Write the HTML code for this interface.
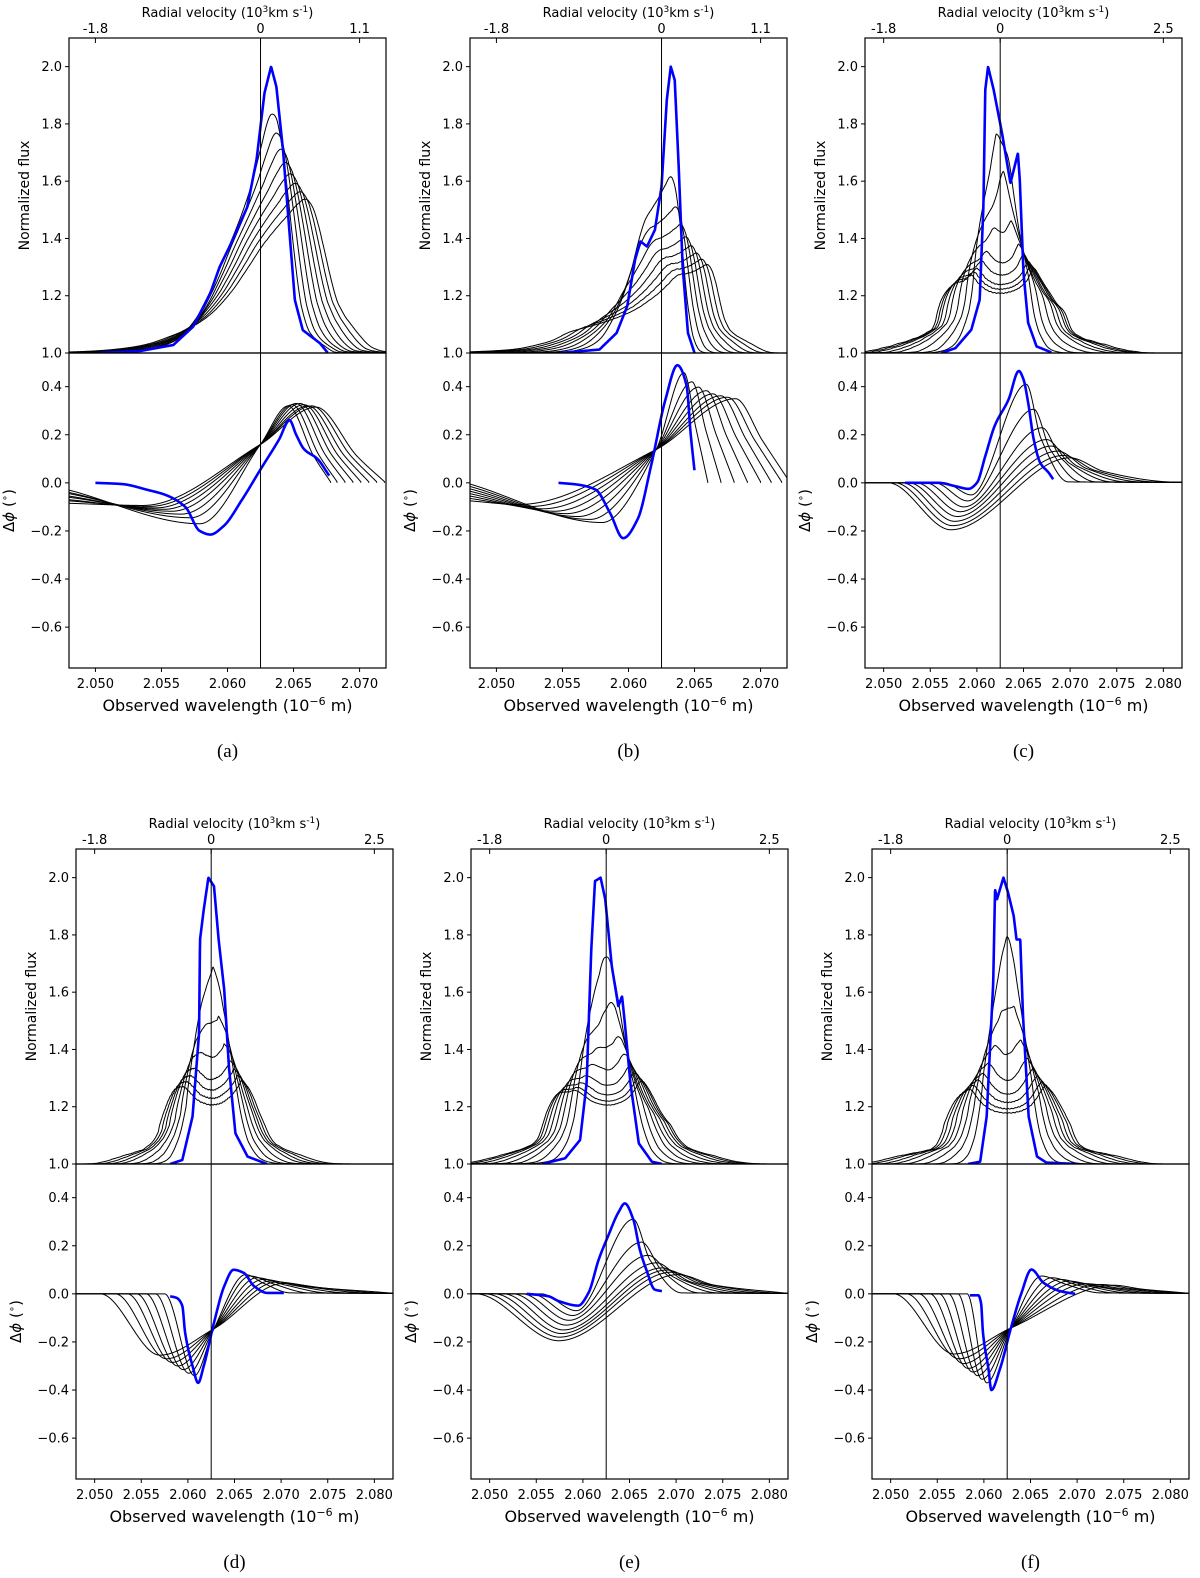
<!DOCTYPE html>
<html><head><meta charset="utf-8">
<style>
body{margin:0;background:#fff}
svg{display:block}
text{font-family:"DejaVu Sans","Liberation Sans",sans-serif;fill:#000}
.cap{font-family:"Liberation Serif",serif}
</style></head>
<body>
<svg id="fig" width="1200" height="1578" viewBox="0 0 1200 1578"></svg>
<script>
// ---------- DATA ----------
const aBlueFluxWl=[2.0503,2.0534,2.0559,2.0574,2.0587,2.0594,2.0604,2.0615,2.0622,2.0628,2.0633,2.0637,2.0642,2.0647,2.0651,2.0657,2.0670,2.0676];
const aBlueFluxVal=[1.0,1.007,1.028,1.092,1.209,1.30,1.395,1.51,1.675,1.908,2.0,1.93,1.71,1.418,1.185,1.08,1.034,1.0];
const bBlueFluxWl=[2.0548,2.0578,2.0591,2.0599,2.0605,2.0609,2.0614,2.0620,2.0625,2.0629,2.0632,2.0635,2.0638,2.0641,2.0645,2.0650];
const bBlueFluxVal=[1.0,1.012,1.07,1.163,1.326,1.39,1.372,1.43,1.581,1.884,2.0,1.953,1.651,1.302,1.07,1.0];
const cBlueFluxWl=[2.0562,2.0577,2.0594,2.0603,2.0607,2.0609,2.0612,2.0618,2.0627,2.0636,2.0644,2.0646,2.0650,2.0655,2.0664,2.0680];
const cBlueFluxVal=[1.0,1.017,1.081,1.186,1.512,1.919,2.0,1.919,1.767,1.593,1.698,1.605,1.279,1.105,1.023,1.002];
const dBlueFluxWl=[2.0581,2.0594,2.0605,2.0612,2.0613,2.0617,2.0622,2.0628,2.0633,2.0639,2.0644,2.0651,2.0664,2.0685];
const dBlueFluxVal=[1.0,1.014,1.166,1.457,1.783,1.888,2.0,1.97,1.783,1.608,1.34,1.107,1.026,1.0];
const eBlueFluxWl=[2.0556,2.0581,2.0597,2.0604,2.0609,2.0613,2.0619,2.0624,2.0631,2.0638,2.0642,2.0645,2.0651,2.0660,2.0674,2.0685];
const eBlueFluxVal=[1.0,1.02,1.084,1.282,1.749,1.988,2.0,1.924,1.691,1.551,1.586,1.492,1.282,1.072,1.008,1.0];
const fBlueFluxWl=[2.0583,2.0596,2.0603,2.0610,2.0612,2.0614,2.0621,2.0626,2.0632,2.0635,2.0639,2.0642,2.0648,2.0657,2.0667,2.0700];
const fBlueFluxVal=[1.0,1.008,1.166,1.632,1.96,1.924,2.0,1.947,1.866,1.784,1.784,1.516,1.166,1.026,1.005,1.0];

const aKernLeft=[0.0025,0.0033,0.0041,0.0049,0.0057,0.0065,0.0073,0.0081];
const aKernRight=[0.0005,0.0009,0.0013,0.0017,0.0021,0.0025,0.0029,0.0033];
const bKernLeft=[0.0024,0.0034,0.0043,0.0052,0.0060,0.0068,0.0076,0.0084];
const bKernRight=[0.0004,0.0008,0.0012,0.0016,0.0020,0.0024,0.0028,0.0032];
const cKernLeft=[0.0012,0.0020,0.0028,0.0036,0.0041,0.0046,0.0049,0.0052];
const cKernRight=[0.0012,0.0020,0.0028,0.0036,0.0041,0.0046,0.0049,0.0052];
const dKernLeft=[0.0014,0.0020,0.0026,0.0032,0.0036,0.0040,0.0044];
const dKernRight=[0.0014,0.0020,0.0026,0.0032,0.0036,0.0040,0.0044];
const eKernLeft=[0.0014,0.0022,0.0029,0.0035,0.0041,0.0046,0.0050,0.0053];
const eKernRight=[0.0014,0.0022,0.0029,0.0035,0.0041,0.0046,0.0050,0.0053];
const fKernLeft=[0.0013,0.0021,0.0028,0.0035,0.0041,0.0046,0.0051,0.0055];
const fKernRight=[0.0013,0.0021,0.0028,0.0035,0.0041,0.0046,0.0051,0.0055];
const kernSkew=[2.0,0.8,0,0,0,0];

const aBluePhWl=[2.0500,2.0520,2.0540,2.0553,2.0568,2.0579,2.0587,2.0597,2.0611,2.0625,2.0639,2.0647,2.0652,2.0658,2.0668,2.0677];
const aBluePhVal=[0.0,-0.005,-0.03,-0.05,-0.1,-0.2,-0.215,-0.18,-0.07,0.056,0.18,0.26,0.2,0.14,0.1,0.03];
const bBluePhWl=[2.0547,2.0561,2.0575,2.0586,2.0596,2.0607,2.0617,2.0628,2.0637,2.0644,2.0647,2.0650];
const bBluePhVal=[0.0,-0.007,-0.028,-0.125,-0.23,-0.15,0.069,0.347,0.489,0.403,0.208,0.049];
const cBluePhWl=[2.0523,2.0559,2.0577,2.0591,2.0600,2.0609,2.0619,2.0634,2.0645,2.0650,2.0655,2.0661,2.0668,2.0677,2.0682];
const cBluePhVal=[0,0,-0.014,-0.025,0,0.111,0.236,0.347,0.465,0.43,0.333,0.18,0.083,0.042,0.014];
const dBluePhWl=[2.0581,2.0588,2.0594,2.0597,2.0605,2.0611,2.0617,2.0628,2.0639,2.0649,2.0660,2.0671,2.0685,2.0703];
const dBluePhVal=[-0.01,-0.017,-0.05,-0.16,-0.3,-0.37,-0.3,-0.12,0.032,0.1,0.087,0.032,0.004,0.004];
const eBluePhWl=[2.0540,2.0563,2.0574,2.0595,2.0606,2.0617,2.0627,2.0638,2.0645,2.0654,2.0661,2.0668,2.0677,2.0685];
const eBluePhVal=[0,-0.01,-0.03,-0.049,0.004,0.143,0.24,0.338,0.376,0.31,0.185,0.101,0.018,0.011];
const fBluePhWl=[2.0585,2.0594,2.0597,2.0599,2.0605,2.0608,2.0617,2.0629,2.0640,2.0651,2.0664,2.0682,2.0698];
const fBluePhVal=[-0.006,-0.006,-0.04,-0.16,-0.315,-0.40,-0.315,-0.142,0.0,0.101,0.046,0.011,0.0];

const aPhStartX=[2.048,2.048,2.048,2.048,2.048,2.048,2.048,2.048];
const aPhStartY=[-0.03,-0.04,-0.045,-0.055,-0.06,-0.07,-0.075,-0.085];
const aPhTroughX=[2.0579,2.0572,2.0565,2.0558,2.0552,2.0546,2.0541,2.0536];
const aPhTroughY=[-0.17,-0.145,-0.13,-0.118,-0.11,-0.104,-0.098,-0.094];
const aPhCross=[2.0625,0.16];
const aPhPeakX=[2.0646,2.0649,2.0652,2.0655,2.0658,2.0661,2.0664,2.0667];
const aPhPeakY=[0.32,0.325,0.33,0.33,0.325,0.32,0.32,0.315];
const aPhEndX=[2.0678,2.0683,2.0689,2.0695,2.0701,2.0707,2.0713,2.0719];

const bPhStartX=[2.048,2.048,2.048,2.048,2.048,2.048,2.048,2.048];
const bPhStartY=[-0.005,-0.015,-0.025,-0.035,-0.045,-0.055,-0.065,-0.075];
const bPhTroughX=[2.0580,2.0571,2.0562,2.0553,2.0544,2.0535,2.0526,2.0517];
const bPhTroughY=[-0.165,-0.152,-0.14,-0.128,-0.118,-0.108,-0.098,-0.09];
const bPhCross=[2.0621,0.139];
const bPhPeakX=[2.0642,2.0648,2.0653,2.0659,2.0664,2.0670,2.0675,2.0681];
const bPhPeakY=[0.458,0.42,0.398,0.383,0.37,0.362,0.356,0.35];
const bPhEndX=[2.0660,2.0670,2.0680,2.0690,2.0700,2.0708,2.0716,2.0722];

const cPhStartX=[2.0565,2.0555,2.0545,2.0535,2.0527,2.0520,2.0512,2.0505];
const cPhStartY=[0,0,0,0,0,0,0,0];
const cPhTroughX=[2.0594,2.0590,2.0586,2.0582,2.0579,2.0576,2.0574,2.0572];
const cPhTroughY=[-0.05,-0.075,-0.10,-0.12,-0.14,-0.16,-0.178,-0.195];
const cPhCross=null;
const cPhPeakX=[2.0653,2.0661,2.0670,2.0675,2.0680,2.0687,2.0693,2.0700];
const cPhPeakY=[0.41,0.306,0.229,0.18,0.153,0.132,0.114,0.104];
const cPhEndX=[2.0698,2.0712,2.0728,2.0745,2.0760,2.0775,2.0790,2.0805];

const dPhStartX=[2.0575,2.0565,2.0555,2.0545,2.0535,2.0522,2.0506];
const dPhStartY=[0,0,0,0,0,0,0];
const dPhTroughX=[2.0607,2.0601,2.0595,2.0589,2.0583,2.0577,2.0570];
const dPhTroughY=[-0.34,-0.33,-0.315,-0.30,-0.285,-0.27,-0.255];
const dPhCross=[2.0628,-0.145];
const dPhPeakX=[2.0662,2.0667,2.0674,2.0681,2.0688,2.0695,2.0702];
const dPhPeakY=[0.08,0.074,0.067,0.06,0.053,0.049,0.043];
const dPhEndX=[2.0710,2.0730,2.0750,2.0770,2.0790,2.0805,2.0815];

const ePhStartX=[2.0555,2.0545,2.0535,2.0525,2.0515,2.0505,2.0495,2.0485];
const ePhStartY=[0,0,0,0,0,0,0,0];
const ePhTroughX=[2.0593,2.0589,2.0585,2.0582,2.0579,2.0577,2.0575,2.0574];
const ePhTroughY=[-0.07,-0.09,-0.11,-0.13,-0.15,-0.165,-0.18,-0.195];
const ePhCross=null;
const ePhPeakX=[2.0654,2.0663,2.0670,2.0679,2.0685,2.0690,2.0695,2.0702];
const ePhPeakY=[0.31,0.215,0.16,0.129,0.108,0.099,0.09,0.08];
const ePhEndX=[2.0706,2.0725,2.0745,2.0760,2.0775,2.0790,2.0805,2.0815];

const fPhStartX=[2.0582,2.0572,2.0562,2.0552,2.0542,2.0530,2.0517,2.0503];
const fPhStartY=[0,0,0,0,0,0,0,0];
const fPhTroughX=[2.0603,2.0598,2.0593,2.0588,2.0583,2.0578,2.0573,2.0568];
const fPhTroughY=[-0.37,-0.355,-0.34,-0.325,-0.31,-0.29,-0.27,-0.25];
const fPhCross=[2.0629,-0.142];
const fPhPeakX=[2.0662,2.0673,2.0682,2.0691,2.0699,2.0710,2.0725,2.0739];
const fPhPeakY=[0.074,0.067,0.06,0.053,0.046,0.042,0.039,0.036];
const fPhEndX=[2.0725,2.0740,2.0755,2.0770,2.0785,2.0800,2.0810,2.0815];

const fluxTicks=[1.0,1.2,1.4,1.6,1.8,2.0];
const phaseTicks=[0.4,0.2,0.0,-0.2,-0.4,-0.6];
const phaseTickLabels=["0.4","0.2","0.0","\u22120.2","\u22120.4","\u22120.6"];
const wlTicksShort=[2.050,2.055,2.060,2.065,2.070];
const wlTicksLong=[2.050,2.055,2.060,2.065,2.070,2.075,2.080];
const velLabelsShort=["-1.8","0","1.1"];
const velLabelsLong=["-1.8","0","2.5"];
const velTickWlShort=[2.050,2.0625,2.070];
const velTickWlLong=[2.050,2.0625,2.080];

// ---------- RENDER ----------
const NS='http://www.w3.org/2000/svg';
const svg=document.getElementById('fig');
function mk(tag,attrs,parent){const e=document.createElementNS(NS,tag);for(const k in attrs)e.setAttribute(k,attrs[k]);(parent||svg).appendChild(e);return e;}

function interpLin(xs,ys,x,outside){
  if(x<=xs[0]||x>=xs[xs.length-1]) return outside;
  let lo=0,hi=xs.length-1;
  while(hi-lo>1){const m=(lo+hi)>>1;if(xs[m]<=x)lo=m;else hi=m;}
  const t=(x-xs[lo])/(xs[hi]-xs[lo]);return ys[lo]+t*(ys[hi]-ys[lo]);
}
function pchip(xs,ys){
  const n=xs.length,h=[],d=[],m=new Array(n).fill(0);
  for(let i=0;i<n-1;i++){h[i]=xs[i+1]-xs[i];d[i]=(ys[i+1]-ys[i])/h[i];}
  m[0]=d[0];m[n-1]=d[n-2];
  for(let i=1;i<n-1;i++){
    if(d[i-1]*d[i]<=0)m[i]=0;
    else{const w1=2*h[i]+h[i-1],w2=h[i]+2*h[i-1];m[i]=(w1+w2)/(w1/d[i-1]+w2/d[i]);}
  }
  return function(x){
    if(x<=xs[0])return ys[0];if(x>=xs[n-1])return ys[n-1];
    let i=0;while(i<n-2&&x>xs[i+1])i++;
    const t=(x-xs[i])/h[i],t2=t*t,t3=t2*t;
    return (2*t3-3*t2+1)*ys[i]+(t3-2*t2+t)*h[i]*m[i]+(-2*t3+3*t2)*ys[i+1]+(t3-t2)*h[i]*m[i+1];
  };
}

const PW=317,PH=315;
const panels=[
 {key:'a',L:69,T:38,xmax:2.072,fw:aBlueFluxWl,fv:aBlueFluxVal,kl:aKernLeft,kr:aKernRight,skew:kernSkew[0],pw:aBluePhWl,pv:aBluePhVal,
  sx:aPhStartX,sy:aPhStartY,tx:aPhTroughX,ty:aPhTroughY,cr:aPhCross,px:aPhPeakX,py:aPhPeakY,ex:aPhEndX,tf:0.6,tv:0.35,ext:false,
  xt:wlTicksShort,vl:velLabelsShort,vw:velTickWlShort,cap:'(a)'},
 {key:'b',L:470,T:38,xmax:2.072,fw:bBlueFluxWl,fv:bBlueFluxVal,kl:bKernLeft,kr:bKernRight,skew:kernSkew[1],pw:bBluePhWl,pv:bBluePhVal,
  sx:bPhStartX,sy:bPhStartY,tx:bPhTroughX,ty:bPhTroughY,cr:bPhCross,px:bPhPeakX,py:bPhPeakY,ex:bPhEndX,tf:0.5,tv:0.5,ext:false,
  xt:wlTicksShort,vl:velLabelsShort,vw:velTickWlShort,cap:'(b)'},
 {key:'c',L:865,T:38,xmax:2.082,fw:cBlueFluxWl,fv:cBlueFluxVal,kl:cKernLeft,kr:cKernRight,skew:kernSkew[2],pw:cBluePhWl,pv:cBluePhVal,
  sx:cPhStartX,sy:cPhStartY,tx:cPhTroughX,ty:cPhTroughY,cr:cPhCross,px:cPhPeakX,py:cPhPeakY,ex:cPhEndX,tf:0.35,tv:0.45,ext:true,
  xt:wlTicksLong,vl:velLabelsLong,vw:velTickWlLong,cap:'(c)'},
 {key:'d',L:76,T:849,xmax:2.082,fw:dBlueFluxWl,fv:dBlueFluxVal,kl:dKernLeft,kr:dKernRight,skew:kernSkew[3],pw:dBluePhWl,pv:dBluePhVal,
  sx:dPhStartX,sy:dPhStartY,tx:dPhTroughX,ty:dPhTroughY,cr:dPhCross,px:dPhPeakX,py:dPhPeakY,ex:dPhEndX,tf:0.4,tv:0.55,ext:true,
  xt:wlTicksLong,vl:velLabelsLong,vw:velTickWlLong,cap:'(d)'},
 {key:'e',L:471,T:849,xmax:2.082,fw:eBlueFluxWl,fv:eBlueFluxVal,kl:eKernLeft,kr:eKernRight,skew:kernSkew[4],pw:eBluePhWl,pv:eBluePhVal,
  sx:ePhStartX,sy:ePhStartY,tx:ePhTroughX,ty:ePhTroughY,cr:ePhCross,px:ePhPeakX,py:ePhPeakY,ex:ePhEndX,tf:0.35,tv:0.45,ext:true,
  xt:wlTicksLong,vl:velLabelsLong,vw:velTickWlLong,cap:'(e)'},
 {key:'f',L:872,T:849,xmax:2.082,fw:fBlueFluxWl,fv:fBlueFluxVal,kl:fKernLeft,kr:fKernRight,skew:kernSkew[5],pw:fBluePhWl,pv:fBluePhVal,
  sx:fPhStartX,sy:fPhStartY,tx:fPhTroughX,ty:fPhTroughY,cr:fPhCross,px:fPhPeakX,py:fPhPeakY,ex:fPhEndX,tf:0.4,tv:0.55,ext:true,
  xt:wlTicksLong,vl:velLabelsLong,vw:velTickWlLong,cap:'(f)'}
];
const XMIN=2.048, FMAX=2.1, FMIN=1.0, PMAX=0.54, PMIN=-0.77, LAM0=2.0625;
const FX0=2.02, FSTEP=0.00001, FLEN=9000;
const WING_FRAC=0.3;

function pathFrom(pts){return pts.map((p,i)=>(i?'L':'M')+p[0].toFixed(2)+' '+p[1].toFixed(2)).join(' ');}

panels.forEach(P=>{
  const L=P.L,T=P.T,M=T+PH,B=T+2*PH;
  const xs=v=>L+(v-XMIN)/(P.xmax-XMIN)*PW;
  const yF=v=>T+(FMAX-v)/(FMAX-FMIN)*PH;
  const yP=v=>M+(PMAX-v)/(PMAX-PMIN)*PH;
  const g=mk('g',{});
  
  
  const defs=mk('defs',{},g);
  const cp1=mk('clipPath',{id:'cf'+P.key},defs);mk('rect',{x:L,y:T,width:PW,height:PH},cp1);
  const cp2=mk('clipPath',{id:'cp'+P.key},defs);mk('rect',{x:L,y:M,width:PW,height:PH},cp2);

  const Lf=new Float32Array(FLEN);
  for(let k=0;k<FLEN;k++)Lf[k]=interpLin(P.fw,P.fv,FX0+k*FSTEP,1.0)-1;
  const Lat=x=>{const k=Math.round((x-FX0)/FSTEP);return (k<0||k>=FLEN)?0:Lf[k];};

  const N=640,step=(P.xmax-XMIN)/N;
  const fg=mk('g',{'clip-path':'url(#cf'+P.key+')'},g);
  
  
  const NT=40,NW=5;
  P.kl.forEach((a,i)=>{
    const b=P.kr[i],h=(a+b)/2,s=(b-a)/2;
    const us=[],ws=[];let den=0;
    for(let k=0;k<NT;k++){
      const c=Math.cos((k+0.5)/NT*Math.PI);
      const sk=P.skew>0?Math.pow((1+c)/2,P.skew)+0.03:1;
      const wr=(1-WING_FRAC)*sk/NT;
      us.push(s+h*c);ws.push(wr);den+=wr;
      for(let m=0;m<NW;m++){
        const ext=h*(0.2+1.4*(m+0.5)/NW);
        const extC=(P.skew>0&&c>0)?ext*0.4:ext;
        const w=WING_FRAC*sk/(NT*NW);
        us.push(s+(h+extC)*c);ws.push(w);den+=w;
      }
    }
    const pts=[];
    for(let j=0;j<=N;j++){
      const x=XMIN+j*step;let num=0;
      for(let k=0;k<us.length;k++)num+=ws[k]*Lat(x-us[k]);
      pts.push([xs(x),yF(1+num/den)]);
    }
    const el=mk('path',{d:pathFrom(pts),fill:'none',stroke:'#000','stroke-width':1},fg);
    
    
  });
  {
    const pts=[];const x0=P.fw[0],x1=P.fw[P.fw.length-1];
    for(let x=x0;x<=x1+1e-9;x+=step/2)pts.push([xs(x),yF(interpLin(P.fw,P.fv,Math.min(Math.max(x,x0+1e-9),x1-1e-9),1))]);
    const el=mk('path',{d:pathFrom(pts),fill:'none',stroke:'#0000ff','stroke-width':2.6,'stroke-linejoin':'round'},fg);
    
    
  }
  const pg=mk('g',{'clip-path':'url(#cp'+P.key+')'},g);
  
  
  P.sx.forEach((sx,i)=>{
    const kx=[],ky=[];
    if(sx>XMIN+1e-5){kx.push(XMIN);ky.push(0);}
    kx.push(sx);ky.push(P.sy[i]);
    kx.push(P.tx[i]);ky.push(P.ty[i]);
    if(P.cr){kx.push(P.cr[0]);ky.push(P.cr[1]);}
    kx.push(P.px[i]);ky.push(P.py[i]);
    kx.push(P.px[i]+P.tf*(P.ex[i]-P.px[i]));ky.push(P.py[i]*P.tv);
    kx.push(P.ex[i]);ky.push(0.004);
    if(P.ext&&P.ex[i]<P.xmax-1e-4){kx.push(P.xmax);ky.push(0.002);}
    const f=pchip(kx,ky);const pts=[];
    const xe=kx[kx.length-1];
    for(let x=XMIN;x<=xe+1e-9;x+=step/2)pts.push([xs(x),yP(f(x))]);
    if(!P.ext)pts.push([xs(xe),yP(0)]);
    const el=mk('path',{d:pathFrom(pts),fill:'none',stroke:'#000','stroke-width':1},pg);
    
    
  });
  {
    const f=pchip(P.pw,P.pv);const pts=[];
    for(let x=P.pw[0];x<=P.pw[P.pw.length-1]+1e-9;x+=step/2)pts.push([xs(x),yP(f(x))]);
    const el=mk('path',{d:pathFrom(pts),fill:'none',stroke:'#0000ff','stroke-width':2.6,'stroke-linejoin':'round'},pg);
    
    
  }
  const vl=mk('line',{x1:xs(LAM0),x2:xs(LAM0),y1:T,y2:B,stroke:'#000','stroke-width':1},g);
  
  
  const r1=mk('rect',{x:L,y:T,width:PW,height:PH,fill:'none',stroke:'#000','stroke-width':1.2},g);
  
  
  const r2=mk('rect',{x:L,y:M,width:PW,height:PH,fill:'none',stroke:'#000','stroke-width':1.2},g);
  
  
  fluxTicks.forEach(v=>{
    const y=yF(v);
    mk('line',{x1:L-4,x2:L,y1:y,y2:y,stroke:'#000','stroke-width':1},g);
    const t=mk('text',{x:L-7,y:y+4.5,'text-anchor':'end','font-size':13},g);t.textContent=v.toFixed(1);
    
    
  });
  phaseTicks.forEach((v,k)=>{
    const y=yP(v);
    mk('line',{x1:L-4,x2:L,y1:y,y2:y,stroke:'#000','stroke-width':1},g);
    const t=mk('text',{x:L-7,y:y+4.5,'text-anchor':'end','font-size':13},g);t.textContent=phaseTickLabels[k];
    
    
  });
  P.xt.forEach(v=>{
    const x=xs(v);
    mk('line',{x1:x,x2:x,y1:B,y2:B+4,stroke:'#000','stroke-width':1},g);
    const t=mk('text',{x:x,y:B+20,'text-anchor':'middle','font-size':13},g);t.textContent=v.toFixed(3);
    
    
  });
  P.vw.forEach((v,k)=>{
    const x=xs(v);
    mk('line',{x1:x,x2:x,y1:T,y2:T+5,stroke:'#000','stroke-width':1},g);
    const t=mk('text',{x:x,y:T-5,'text-anchor':'middle','font-size':13},g);t.textContent=P.vl[k];
    
    
  });
  const vt=mk('text',{x:L+PW/2,y:T-21,'text-anchor':'middle','font-size':13},g);
  vt.innerHTML='Radial velocity (10<tspan dy="-5" font-size="9">3</tspan><tspan dy="5">km s</tspan><tspan dy="-5" font-size="9">-1</tspan><tspan dy="5">)</tspan>';
  
  
  const xl=mk('text',{x:L+PW/2,y:B+43,'text-anchor':'middle','font-size':16},g);
  xl.innerHTML='Observed wavelength (10<tspan dy="-6" font-size="11">\u22126</tspan><tspan dy="6"> m)</tspan>';
  
  
  const yl=mk('text',{x:0,y:0,'text-anchor':'middle','font-size':14,transform:'translate('+(L-40)+','+(T+PH/2)+') rotate(-90)'},g);
  yl.textContent='Normalized flux';
  
  
  const pl=mk('text',{x:0,y:0,'text-anchor':'middle','font-size':15,transform:'translate('+(L-55)+','+(M+PH/2)+') rotate(-90)'},g);
  pl.innerHTML='\u0394<tspan font-style="italic">\u03d5</tspan> (<tspan dy="-6" font-size="10">\u2218</tspan><tspan dy="6">)</tspan>';
  
  
  const cap=mk('text',{x:L+PW/2,y:B+89,'text-anchor':'middle','font-size':19,'class':'cap'},g);
  cap.textContent=P.cap;
  
  
});
</script>
</body></html>
